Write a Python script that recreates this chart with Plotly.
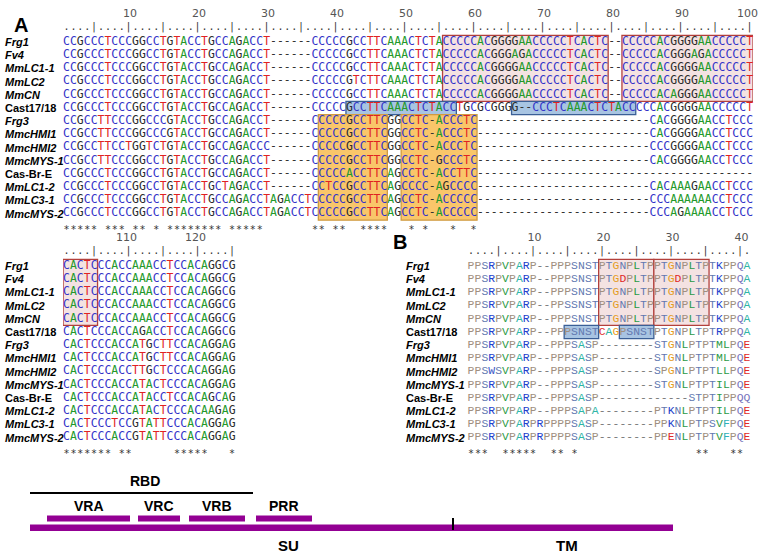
import plotly.graph_objects as go

W, H = 760, 552
PAGE_MARGIN = 0   # body margin is removed in the written page (see post_script)

# ---------------- data ----------------
ROW_NAMES = ["Frg1", "Fv4", "MmLC1-1", "MmLC2", "MmCN", "Cast17/18", "Frg3",
             "MmcHMI1", "MmcHMI2", "MmcMYS-1", "Cas-Br-E", "MmLC1-2", "MmLC3-1", "MmcMYS-2"]
ROW_ITALIC = [True, True, True, True, True, False, True, True, True, True, False, True, True, True]

# Panel A, alignment columns 1-100
SEQ_A1 = [
    "CCGCCCTCCCGGCCTGTACCTGCCAGACCT------CCCCCGCCTTCAAACTCTACCCCCACGGGGAACCCCCTCACTC--CCCCCACGGGGAACCCCCT",
    "CCGCCCTCCCGGCCTGTACCTGCCAGACCT------CCCCCGCCTTCAAACTCTACCCCCACGGGAGACCCCCTCACTC--CCCCCACGGGAGACCCCCT",
    "CCGCCCTCCCGGCCTGTACCTGCCAGACCT------CCCCCGCCTTCAAACTCTACCCCCACGGGGAACCCCCTCACTC--CCCCCACGGGGAACCCCCT",
    "CCGCCCTCCCGGCCTGTACCTGCCAGACCT------CCCCCGTCTTCAAACTCTACCCCCACGGGGAACCCCCTCACTC--CCCCCACGGGGAACCCCCT",
    "CCGCCCTCCCGGCCTGTACCTGCCAGACCT------CCCCCGCCTTCAAACTCTACCCCCACGGGGAACCCCCTCACTC--CCCCCACAGGGAACCCCCT",
    "CCGCCCTCCCGGCCTGTACCTGCCAGACCT------CCCCCGCCTTCAAACTCTACCTGCGCGGGG--CCCTCAAACTCTACCCCCACGGGGAACCCCCT",
    "CCGCCTTCCCGGCCCGTACCTGCCAGACCT------CCCCCGCCTTCGGCCTC-ACCCTC-------------------------CACGGGGAACCTCCC",
    "CCGCCTTCCCGGCCCGTACCTGCCAGACCT------CCCCCGCCTTCGGCCTC-ACCCTC-------------------------CACGGGGAACCTCCC",
    "CCGCCTTCCTGGTCTGTACCTGCCAGACCC------CCCCCGCCTTCGGCCTC-ACCCTC-------------------------CCCGGGGAACCTCCC",
    "CCGCCTTCCCGGCCTGTACCTGCCAGACCT------CCCCCGCCTTCGGCCTC-GCCCTC-------------------------CACGGGGAACCTCCC",
    "CCGCCCTCCCGGCCTGTACCTGCCAGACCT------CCCCCACCTTCAGCCTC-ACCTTC----------------------------------------",
    "CCGCCCTCCCGGCCTGTACCTGCTAGACCT------CCTCCGCCTTCAGCCCC-AGCCCC-------------------------CACAAAGAACCTCCC",
    "CCGCCCTCCCGGCCTGTACCTGCCAGACCTAGACCTCCCCCGCCTTCAGCCTC-ACCCCC-------------------------CCCAAAAAACCTCCC",
    "CCGCCCTCCCGGCCTGTACCTGCCAGACCTAGACCTCCCCCGCCTTCAGCCTC-ACCCCC-------------------------CCCAGAAAACCTCCC",
]
STARS_A1 = "***** *** ** * ******** ***** " + "      ** **  ****   * *   *  *" + " " * 40

# Panel A, alignment columns 101-125
SEQ_A2 = [
    "CACTCCCACCAAACCTCCACAGGCG",
    "CACTCCCACCAAACCTCCACAGGCG",
    "CACTCCCACCAAACCTCCACAGGCG",
    "CACTCCCACCAAACCTCCACAGGCG",
    "CACTCCCACCAAACCTCCACAGGCG",
    "CACTCCCACCAGACCTCCACAGGCG",
    "CACTCCCACCATGCTTCCACAGGAG",
    "CACTCCCACCATGCTTCCACAGGAG",
    "CACTCCCACCTTGCTCCCACAGGAG",
    "CACTCCCACCATACTCCCACAGGAG",
    "CACTCCCACCATACCTCCACAGCAG",
    "CACTCCCACCATACTCCCACAAGAG",
    "CACTCCCTCCGTATTCCCACAGGAG",
    "CACTCCCACCGTATTCCCACAGGAG",
]
STARS_A2 = "******* **      *****   *"

# Panel B, protein alignment columns 1-41
SEQ_B = [
    "PPSRPVPARP--PPPSNSTPTGNPLTPPTGNPLTPTKPPQA",
    "PPSRPVPARP--PPPSNSTPTGDPLTPPTGDPLTPTKPPQA",
    "PPSRPVPARP--PPPSNSTPTGNPLTPPTGNPLTPTKPPQA",
    "PPSRPVPARP--PPSSNSTPTGNPLTPPTGNPLTPTKPPQA",
    "PPSRPVPARP--PPPSNSTPTGNPLTPPTGNPLTPTKPPQA",
    "PPSRPVPARP--PPPSNSTCAGPSNSTPTGNPLTPTRPPQA",
    "PPSRPVPARP--PPPSASP--------STGNLPTPTMLPQE",
    "PPSRPVPARP--PPPSASP--------STGNLPTPTMLPQE",
    "PPSWSVPARP--PPPSASP--------SPGNLPTPTLLPQE",
    "PPSRPVPARP--PPPSASP--------STGNLPTPTILPQE",
    "PPSRPVPARP--PPPSASP-------------STPTIPPQQ",
    "PPSRPVPARP--PPPSAPA--------PTKNLPTPTILPQE",
    "PPSRPVPARPRPPPPSASP--------PPKNLPTPSVFPQE",
    "PPSRPVPARPRPPPPSASP--------PPENLPTPTVFPQE",
]
STARS_B = "***  *****  ** *" + " " * 17 + "**   ** "

RULER_A1_RANGE = (1, 100)
RULER_A1_NUMS = [10, 20, 30, 40, 50, 60, 70, 80, 90, 100]
RULER_A2_RANGE = (101, 125)
RULER_A2_NUMS = [110, 120]
RULER_B_RANGE = (1, 41)
RULER_B_NUMS = [10, 20, 30, 40]

# highlighted boxes: (first col, last col, first row, last row, style)
BOXES_A1 = [(56, 79, 0, 4, "red"), (82, 100, 0, 4, "red"),
            (42, 57, 5, 5, "blue"), (66, 83, 5, 5, "blue"),
            (38, 47, 6, 13, "orange"), (50, 60, 6, 13, "orange")]
BOXES_A2 = [(101, 105, 0, 4, "red")]
BOXES_B = [(20, 27, 0, 4, "red"), (28, 35, 0, 4, "red"),
           (15, 19, 5, 5, "blue"), (23, 27, 5, 5, "blue")]

# Env schematic (schematic units)
DOMAIN_NAMES = ["VRA", "VRC", "VRB", "PRR"]
DOMAIN_START = [47, 138, 189, 256]
DOMAIN_END = [130, 180, 245, 312]
RBD_SPAN = [30, 253]
ENV_SPAN = [30, 673]
SU_TM_BOUNDARY = 453
SUBUNIT_NAMES = ["SU", "TM"]
SUBUNIT_LABEL_X = [288, 567]

# ---------------- styles ----------------
NT_COLORS = {"A": "#23992a", "C": "#3333c8", "G": "#2a2a2a", "T": "#e02222", "-": "#333333"}
AA_COLORS = {"P": "#a08f80", "S": "#6278b0", "T": "#6278b0", "N": "#6278b0", "Q": "#7672bc",
             "R": "#2140cc", "K": "#2140cc", "W": "#3a56c8",
             "V": "#2a9a45", "L": "#2a9a45", "I": "#2a9a45", "M": "#2a9a45",
             "A": "#2fb5a6", "F": "#2fb0b8", "G": "#e39c1e",
             "D": "#e02828", "E": "#e02828", "C": "#e03030", "-": "#777777"}
BOX_STYLE = {"red": ("#f4e2e2", "#b3403c"), "blue": ("#a8c4e2", "#3b5f96"),
             "orange": ("#f9c66a", "#d09a42")}
PURPLE = "#930093"

CW = 6.9     # px per alignment column
RH = 13.2    # px per row
ROWS_ABOVE = 2.5
ROWS_BELOW = 15

fig = go.Figure()


def pxx(px):
    return (px - PAGE_MARGIN) / W


def pxy(py):
    return 1 - (py - PAGE_MARGIN) / H


def block(seqs, first_col, cmap, family, size, xa, ya):
    xs, ys, ts, cs = [], [], [], []
    for r, s in enumerate(seqs):
        for i, ch in enumerate(s):
            xs.append(first_col + i)
            ys.append(r)
            ts.append(ch)
            cs.append(cmap.get(ch, "#333333"))
    fig.add_trace(go.Scatter(x=xs, y=ys, text=ts, mode="text",
                             textfont=dict(family=family, size=size, color=cs),
                             xaxis=xa, yaxis=ya, hoverinfo="skip", showlegend=False,
                             cliponaxis=False))


def stars(st, first_col, xa, ya, row):
    xs = [first_col + i for i, ch in enumerate(st) if ch == "*"]
    fig.add_trace(go.Scatter(x=xs, y=[row + 0.25] * len(xs), text=["*"] * len(xs), mode="text",
                             textfont=dict(family="DejaVu Sans Mono", size=10, color="#333333"),
                             xaxis=xa, yaxis=ya, hoverinfo="skip", showlegend=False,
                             cliponaxis=False))


def ruler(rng, nums, xa, ya):
    cols = list(range(rng[0], rng[1] + 1))
    fig.add_trace(go.Scatter(x=cols, y=[-1.1] * len(cols),
                             text=["|" if c % 5 == 0 else "." for c in cols], mode="text",
                             textfont=dict(family="DejaVu Sans Mono", size=10, color="#333333"),
                             xaxis=xa, yaxis=ya, hoverinfo="skip", showlegend=False,
                             cliponaxis=False))
    # number labels end just right of their tick column
    fig.add_trace(go.Scatter(x=[n + 1.2 - 0.5 * len(str(n)) for n in nums], y=[-2.1] * len(nums),
                             text=[str(n) for n in nums], mode="text", textposition="middle center",
                             textfont=dict(family="DejaVu Sans", size=11, color="#555555"),
                             xaxis=xa, yaxis=ya, hoverinfo="skip", showlegend=False,
                             cliponaxis=False))


def boxes(lst, xa, ya):
    for c0, c1, r0, r1, st in lst:
        fill, edge = BOX_STYLE[st]
        fig.add_shape(type="rect", xref=xa, yref=ya, x0=c0 - 0.5, x1=c1 + 0.5,
                      y0=r0 - 0.5, y1=r1 + 0.5, fillcolor=fill,
                      line=dict(color=edge, width=1.3), layer="below")


def names(ya, xpx):
    for r, (n, it) in enumerate(zip(ROW_NAMES, ROW_ITALIC)):
        txt = f"<b><i>{n}</i></b>" if it else f"<b>{n}</b>"
        fig.add_annotation(x=pxx(xpx), xref="paper", y=r, yref=ya, text=txt, showarrow=False,
                           xanchor="left", yanchor="middle",
                           font=dict(family="Liberation Sans", size=11, color="#000000"))


NT_FONT = ("DejaVu Sans Mono", 11.4)
AA_FONT = ("Liberation Mono", 11.4)

# Panel A top
boxes(BOXES_A1, "x", "y")
block(SEQ_A1, 1, NT_COLORS, NT_FONT[0], NT_FONT[1], "x", "y")
stars(STARS_A1, 1, "x", "y", 14)
ruler(RULER_A1_RANGE, RULER_A1_NUMS, "x", "y")
names("y", 3)

# Panel A bottom
boxes(BOXES_A2, "x2", "y2")
block(SEQ_A2, 101, NT_COLORS, NT_FONT[0], NT_FONT[1], "x2", "y2")
stars(STARS_A2, 101, "x2", "y2", 14)
ruler(RULER_A2_RANGE, RULER_A2_NUMS, "x2", "y2")
names("y2", 3)

# Panel B
boxes(BOXES_B, "x3", "y2")
block(SEQ_B, 1, AA_COLORS, AA_FONT[0], AA_FONT[1], "x3", "y2")
stars(STARS_B, 1, "x3", "y2", 14)
ruler(RULER_B_RANGE, RULER_B_NUMS, "x3", "y2")
names("y2", 404)

# Env schematic
fig.add_shape(type="line", xref="x4", yref="y4", x0=RBD_SPAN[0], x1=RBD_SPAN[1], y0=493, y1=493,
              line=dict(color="#000000", width=2))
for nm, s, e in zip(DOMAIN_NAMES, DOMAIN_START, DOMAIN_END):
    fig.add_shape(type="rect", xref="x4", yref="y4", x0=s, x1=e, y0=515.5, y1=521.5,
                  fillcolor=PURPLE, line=dict(width=0))
    fig.add_annotation(x=(s + e) / 2, y=506, xref="x4", yref="y4", text=f"<b>{nm}</b>",
                       showarrow=False, font=dict(family="Liberation Sans", size=14, color="#000"))
fig.add_shape(type="rect", xref="x4", yref="y4", x0=ENV_SPAN[0], x1=ENV_SPAN[1], y0=524.5, y1=531,
              fillcolor=PURPLE, line=dict(width=0))
fig.add_shape(type="line", xref="x4", yref="y4", x0=SU_TM_BOUNDARY, x1=SU_TM_BOUNDARY, y0=518, y1=530,
              line=dict(color="#000000", width=2))
fig.add_annotation(x=sum(RBD_SPAN) / 2 + 3, y=481, xref="x4", yref="y4", text="<b>RBD</b>",
                   showarrow=False, font=dict(family="Liberation Sans", size=14, color="#000"))
for nm, xx in zip(SUBUNIT_NAMES, SUBUNIT_LABEL_X):
    fig.add_annotation(x=xx, y=545, xref="x4", yref="y4", text=f"<b>{nm}</b>",
                       showarrow=False, font=dict(family="Liberation Sans", size=15, color="#000"))

# Panel letters
fig.add_annotation(x=pxx(12), y=pxy(12), xref="paper", yref="paper", text="<b>A</b>",
                   showarrow=False, font=dict(family="Liberation Sans", size=20, color="#000"))
fig.add_annotation(x=pxx(400), y=pxy(242), xref="paper", yref="paper", text="<b>B</b>",
                   showarrow=False, font=dict(family="Liberation Sans", size=20, color="#000"))


# ---------------- axes ----------------
def xdom(first_center_px, ncols):
    left = first_center_px - CW / 2
    return [pxx(left), pxx(left + ncols * CW)]


def ydom(first_row_px):
    top = first_row_px - ROWS_ABOVE * RH
    bot = first_row_px + ROWS_BELOW * RH
    return [max(0.0, pxy(bot)), min(1.0, pxy(top))]


hid = dict(visible=False, showgrid=False, zeroline=False, fixedrange=True)
fig.update_layout(
    width=W, height=H, margin=dict(l=0, r=0, t=0, b=0),
    paper_bgcolor="white", plot_bgcolor="rgba(0,0,0,0)", showlegend=False,
    hovermode=False,
    xaxis=dict(domain=xdom(66.5, 100), range=[0.5, 100.5], anchor="y", **hid),
    yaxis=dict(domain=ydom(42), range=[ROWS_BELOW, -ROWS_ABOVE], anchor="x", **hid),
    xaxis2=dict(domain=xdom(66.5, 100), range=[100.5, 200.5], anchor="y2", **hid),
    yaxis2=dict(domain=ydom(266), range=[ROWS_BELOW, -ROWS_ABOVE], anchor="x2", **hid),
    xaxis3=dict(domain=xdom(471, 41), range=[0.5, 41.5], anchor="y2", **hid),
    xaxis4=dict(domain=[0, 1], range=[PAGE_MARGIN, PAGE_MARGIN + W], anchor="y4", **hid),
    yaxis4=dict(domain=[0, 1], range=[PAGE_MARGIN + H, PAGE_MARGIN], anchor="x4", **hid),
)

fig.write_html("out.html", config={"displayModeBar": False, "staticPlot": True},
               post_script="document.body.style.margin='0px';")
